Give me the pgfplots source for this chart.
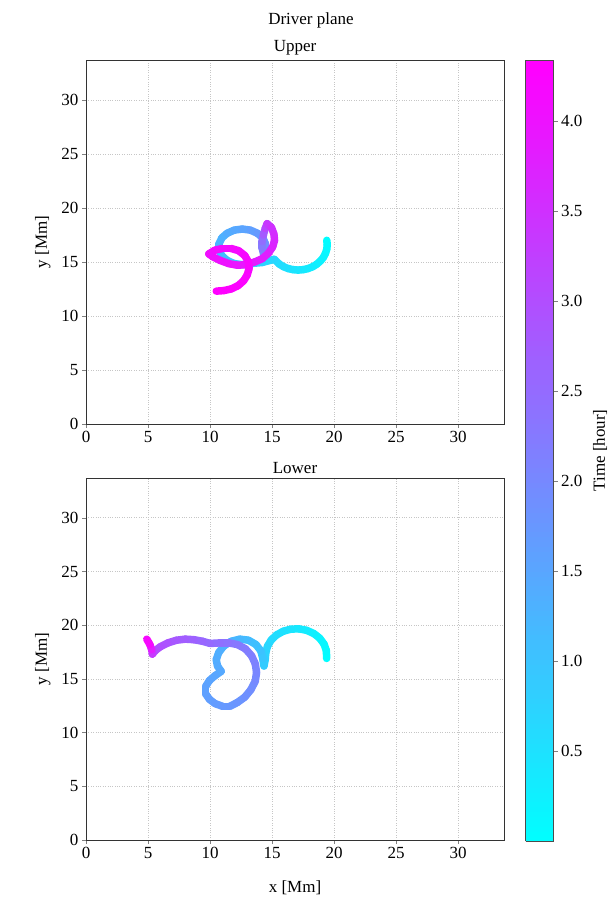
\documentclass[border=0pt]{standalone}
\usepackage{fontspec}
\setmainfont{Liberation Serif}
\usepackage{pgfplots}
\pgfplotsset{compat=1.18}
\pgfplotsset{
  colormap={coolmap}{rgb=(0,1,1) rgb=(1,0,1)},
  every axis/.append style={font=\fontsize{17bp}{20bp}\selectfont},
  base/.style={
    scale only axis, width=418bp,
    xmin=0, xmax=33.7, ymin=0, ymax=33.7,
    xtick={0,5,...,30}, ytick={0,5,...,30},
    tick align=outside, xtick pos=bottom, ytick pos=left,
    major tick length=4bp,
    grid=major, major grid style={dotted, gray!45, line width=0.6bp},
    axis line style={line width=0.7bp, black!80},
    /pgf/number format/assume math mode=true,
    point meta min=0, point meta max=4.34,
    colormap name=coolmap,
    ylabel={y [Mm]},
    ylabel style={yshift=4bp},
    title style={yshift=-5bp},
  },
  traj/.style={mesh, point meta=explicit, line width=7.5bp, line cap=round, line join=round},
}
\begin{document}
\begin{tikzpicture}
\useasboundingbox (0,0) rectangle (615bp,-901bp);
\node at (311bp,-20bp) {\fontsize{17bp}{20bp}\selectfont Driver plane};
\begin{axis}[base, height=364bp, at={(86bp,-424bp)}, anchor=south west,
  title={Upper},
  colorbar sampled,
  colorbar style={
    samples=160,
    at={(parent axis.north east)}, anchor=north west, xshift=13bp,
    scale only axis, width=28bp, height=781bp,
    ytick={0.5,1,...,4},
    yticklabel style={/pgf/number format/fixed, /pgf/number format/fixed zerofill, /pgf/number format/precision=1},
    /pgf/number format/assume math mode=true,
    tick align=outside, ytick pos=right, major tick length=4bp,
    ylabel={Time [hour]}, ylabel style={yshift=-4bp},
    axis line style={line width=0.7bp, black!70},
  },
]
\addplot[traj] table[meta=t] {
x y t
19.41 17.01 0.00
19.45 16.60 0.04
19.41 16.19 0.08
19.31 15.80 0.12
19.14 15.43 0.16
18.90 15.09 0.20
18.61 14.80 0.24
18.28 14.56 0.28
17.90 14.39 0.32
17.51 14.29 0.36
17.10 14.25 0.40
16.69 14.29 0.44
16.30 14.39 0.48
15.93 14.56 0.52
15.59 14.80 0.56
15.18 15.25 0.62
14.20 14.95 0.72
13.25 14.85 0.80
12.60 14.75 0.87
11.95 14.85 0.94
11.38 15.14 1.01
10.95 15.58 1.08
10.73 16.11 1.15
10.73 16.69 1.22
10.95 17.23 1.29
11.38 17.66 1.36
11.95 17.95 1.43
12.60 18.05 1.50
13.25 17.95 1.58
13.82 17.66 1.66
14.25 17.23 1.75
14.47 16.69 1.84
14.47 16.11 1.93
14.32 15.70 2.00
14.20 16.30 2.15
14.20 16.90 2.35
14.30 17.50 2.60
14.45 18.10 2.95
14.60 18.55 3.30
14.95 18.20 3.45
15.15 17.60 3.55
15.20 17.00 3.62
15.05 16.40 3.68
14.70 15.80 3.74
14.20 15.30 3.80
13.60 15.00 3.85
12.90 14.75 3.90
12.20 14.70 3.94
11.50 14.85 3.98
10.80 15.15 4.02
10.20 15.50 4.05
9.90 15.75 4.07
10.40 16.10 4.09
11.00 16.25 4.11
11.70 16.25 4.13
12.30 16.05 4.15
12.80 15.60 4.17
13.10 15.00 4.19
13.15 14.40 4.21
13.00 13.80 4.23
12.70 13.25 4.25
12.25 12.80 4.27
11.70 12.50 4.29
11.10 12.35 4.31
10.50 12.30 4.34
};
\end{axis}
\begin{axis}[base, height=362bp, at={(86bp,-840bp)}, anchor=south west,
  title={Lower}, xlabel={x [Mm]}, xlabel style={yshift=-15bp},
]
\addplot[traj] table[meta=t] {
x y t
19.40 16.90 0.00
19.38 17.63 0.06
19.19 18.24 0.12
18.84 18.79 0.18
18.37 19.22 0.24
17.79 19.52 0.30
17.16 19.66 0.36
16.52 19.63 0.42
15.91 19.44 0.48
15.36 19.09 0.54
14.93 18.62 0.60
14.63 18.04 0.66
14.49 17.41 0.72
14.45 16.80 0.78
14.35 16.20 0.84
14.25 16.90 0.92
14.10 17.60 1.00
13.70 18.20 1.06
13.10 18.60 1.12
12.40 18.70 1.18
11.70 18.50 1.24
11.10 18.05 1.29
10.70 17.45 1.33
10.50 16.80 1.37
10.60 16.20 1.41
10.90 15.70 1.44
10.40 15.30 1.48
9.95 14.85 1.52
9.65 14.30 1.55
9.65 13.60 1.58
9.95 13.10 1.62
10.40 12.70 1.66
11.00 12.45 1.70
11.60 12.45 1.74
12.20 12.80 1.79
12.80 13.30 1.84
13.30 14.00 1.90
13.65 14.80 1.96
13.75 15.60 2.02
13.65 16.40 2.08
13.35 17.15 2.14
12.85 17.80 2.20
12.20 18.20 2.27
11.50 18.35 2.33
10.80 18.35 2.40
10.00 18.30 2.48
9.40 18.50 2.55
8.70 18.65 2.63
8.00 18.70 2.70
7.30 18.60 2.78
6.60 18.35 2.86
6.00 18.00 2.94
5.60 17.65 3.00
5.35 17.30 3.08
5.30 17.70 3.60
5.15 18.20 4.00
4.90 18.70 4.34
};
\end{axis}
\end{tikzpicture}
\end{document}
